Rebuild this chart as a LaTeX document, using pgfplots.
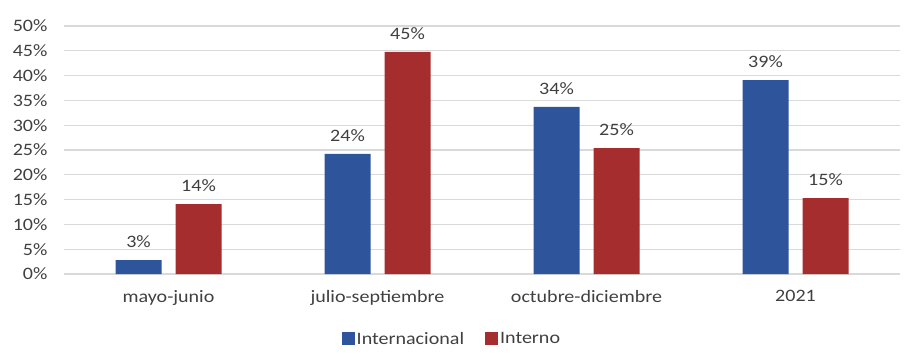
\documentclass[border=0pt]{standalone}
\usepackage{pgfplots}
\pgfplotsset{compat=1.18}
\usepackage{fontspec}
\setmainfont{Carlito}[FakeStretch=1.15]
\definecolor{cblue}{RGB}{46,85,155}
\definecolor{cred}{RGB}{165,45,45}
\definecolor{ctext}{RGB}{64,64,64}
\definecolor{cgrid}{RGB}{217,217,217}
\begin{document}
\begin{tikzpicture}
\begin{axis}[
  scale only axis,
  width=836bp, height=248bp,
  ybar=14bp, bar width=46bp,
  xmin=-0.5, xmax=3.5,
  ymin=0, ymax=50,
  enlarge y limits=false,
  xtick=data,
  xticklabels={mayo-junio, julio-septiembre, octubre-diciembre, 2021},
  ytick={0,5,...,50},
  yticklabel={\pgfmathprintnumber{\tick}\%},
  /pgf/number format/assume math mode=true,
  ymajorgrids,
  grid style={cgrid, line width=1.3bp},
  axis line style={draw=none},
  major tick length=0pt,
  tick style={draw=none},
  font=\fontsize{17.5}{21}\selectfont,
  tick label style={text=ctext, font=\fontsize{17.5}{21}\selectfont},
  yticklabel style={xshift=-13bp},
  xticklabel style={yshift=-13bp},
  nodes near coords={\pgfmathprintnumber[fixed,precision=0]{\pgfplotspointmeta}\%},
  nodes near coords style={text=ctext, font=\fontsize{17.5}{21}\selectfont, yshift=9bp},
  legend columns=2,
  legend style={at={(0.464,-0.262)}, anchor=center, draw=none, fill=none,
    font=\fontsize{17.5}{21}\selectfont, text=ctext,
    /tikz/every even column/.append style={column sep=19bp}},
  legend image code/.code={\fill[#1,draw=none] (0bp,-6bp) rectangle (13bp,7bp);},
]
\addplot[fill=cblue, draw=none] coordinates {(0,2.8) (1,24.2) (2,33.7) (3,39.1)};
\addplot[fill=cred, draw=none] coordinates {(0,14.1) (1,44.8) (2,25.4) (3,15.3)};
\legend{Internacional, Interno}
\end{axis}
\path (current axis.south west) ++(-64bp,-80bp) rectangle ++(915bp,354bp);
\end{tikzpicture}
\end{document}
